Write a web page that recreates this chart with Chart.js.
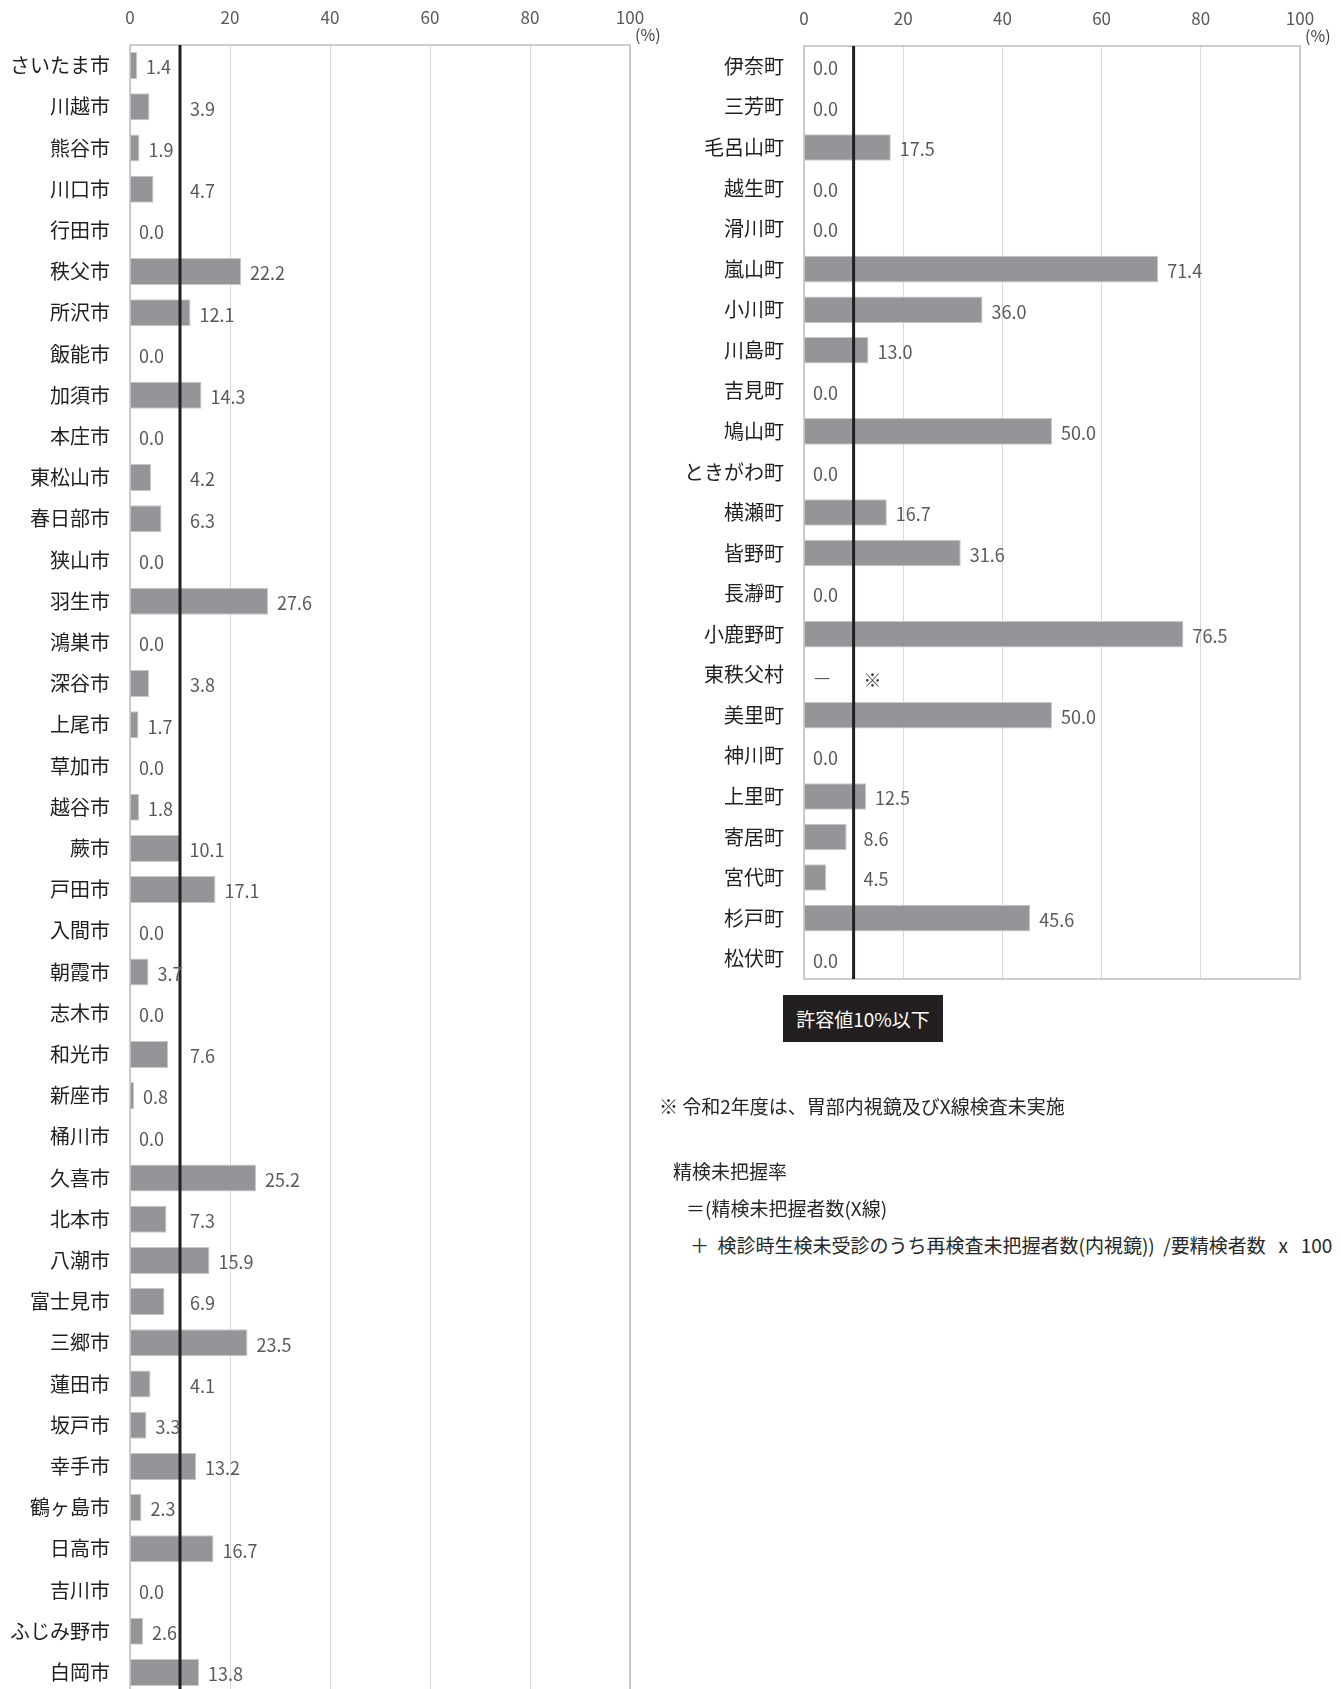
<!DOCTYPE html>
<html lang="ja">
<head>
<meta charset="utf-8">
<script src="https://cdn.jsdelivr.net/npm/chart.js@4.4.1/dist/chart.umd.min.js"></script>
<style>
html, body { margin: 0; padding: 0; background: #fff; overflow: hidden; }
body { width: 1341px; height: 1689px; position: relative; font-family: "Noto Sans CJK JP", "Noto Sans", sans-serif; color: #262626; }
#cityChart { position: absolute; left: 0; top: 0; }
#townChart { position: absolute; left: 674px; top: 0; }
.limit { position: absolute; left: 783px; top: 995px; width: 160px; height: 47px; background: #231f20; color: #fff; font-size: 19px; line-height: 47px; text-align: center; }
.note { position: absolute; font-size: 19px; line-height: 19px; white-space: nowrap; }
</style>
</head>
<body>
<canvas id="cityChart" width="680" height="1693"></canvas>
<canvas id="townChart" width="667" height="1000"></canvas>
<div class="limit">許容値10%以下</div>
<div class="note" style="left:659px; top:1096px;">※ 令和2年度は、胃部内視鏡及びX線検査未実施</div>
<div class="note" style="left:673px; top:1161px;">精検未把握率</div>
<div class="note" style="left:686px; top:1198px;">＝(精検未把握者数(X線)</div>
<div class="note" style="left:690px; top:1235px;">＋&nbsp;&nbsp;検診時生検未受診のうち再検査未把握者数(内視鏡))&nbsp;&nbsp;/要精検者数&nbsp;&nbsp;&nbsp;x&nbsp;&nbsp;&nbsp;100</div>
<script>
// 市
var cityNames = ['さいたま市', '川越市', '熊谷市', '川口市', '行田市', '秩父市', '所沢市', '飯能市', '加須市', '本庄市',
	'東松山市', '春日部市', '狭山市', '羽生市', '鴻巣市', '深谷市', '上尾市', '草加市', '越谷市', '蕨市',
	'戸田市', '入間市', '朝霞市', '志木市', '和光市', '新座市', '桶川市', '久喜市', '北本市', '八潮市',
	'富士見市', '三郷市', '蓮田市', '坂戸市', '幸手市', '鶴ヶ島市', '日高市', '吉川市', 'ふじみ野市', '白岡市'];
var cityRates = [1.4, 3.9, 1.9, 4.7, 0.0, 22.2, 12.1, 0.0, 14.3, 0.0,
	4.2, 6.3, 0.0, 27.6, 0.0, 3.8, 1.7, 0.0, 1.8, 10.1,
	17.1, 0.0, 3.7, 0.0, 7.6, 0.8, 0.0, 25.2, 7.3, 15.9,
	6.9, 23.5, 4.1, 3.3, 13.2, 2.3, 16.7, 0.0, 2.6, 13.8];

// 町村 (null = 未実施)
var townNames = ['伊奈町', '三芳町', '毛呂山町', '越生町', '滑川町', '嵐山町', '小川町', '川島町', '吉見町', '鳩山町',
	'ときがわ町', '横瀬町', '皆野町', '長瀞町', '小鹿野町', '東秩父村', '美里町', '神川町', '上里町', '寄居町',
	'宮代町', '杉戸町', '松伏町'];
var townRates = [0.0, 0.0, 17.5, 0.0, 0.0, 71.4, 36.0, 13.0, 0.0, 50.0,
	0.0, 16.7, 31.6, 0.0, 76.5, null, 50.0, 0.0, 12.5, 8.6,
	4.5, 45.6, 0.0];

var axisTicks = [0, 20, 40, 60, 80, 100];
var threshold = 10;
var missingLabel = '—';
var missingNote = '※';

var FONT = '"Noto Sans CJK JP", "Noto Sans", sans-serif';
Chart.defaults.font.family = FONT;

// threshold line, frame, value labels, unit
var overlay = {
	id: 'overlay',
	afterDatasetsDraw: function (chart) {
		var ctx = chart.ctx, area = chart.chartArea;
		var xs = chart.scales.x, ys = chart.scales.y;
		var lineX = xs.getPixelForValue(threshold);
		ctx.save();

		ctx.strokeStyle = '#bfbfbf';
		ctx.lineWidth = 1.5;
		ctx.strokeRect(area.left, area.top, area.right - area.left, area.bottom - area.top);

		ctx.strokeStyle = '#231f20';
		ctx.lineWidth = 3;
		ctx.beginPath();
		ctx.moveTo(lineX, area.top);
		ctx.lineTo(lineX, area.bottom);
		ctx.stroke();

		ctx.font = '18px ' + FONT;
		ctx.textBaseline = 'middle';
		ctx.textAlign = 'left';
		chart.data.datasets[0].data.forEach(function (v, i) {
			var y = ys.getPixelForValue(i) + 2;
			var x0 = xs.getPixelForValue(0) + 10;
			if (v === null) {
				ctx.fillStyle = '#595959';
				ctx.fillText(missingLabel, x0, y);
				ctx.fillStyle = '#404040';
				ctx.fillText(missingNote, lineX + 10, y + 3);
				return;
			}
			var text = v.toFixed(1);
			var w = ctx.measureText(text).width;
			var x = xs.getPixelForValue(v) + 9;
			// keep the label clear of the threshold line
			if (x < lineX + 9 && x + w > lineX + 2.5) x = lineX + 10;
			ctx.fillStyle = '#595959';
			ctx.fillText(text, x, y);
		});

		ctx.font = '16px ' + FONT;
		ctx.fillStyle = '#404040';
		ctx.fillText('(%)', area.right + 5, area.top - 10);
		ctx.restore();
	}
};

function buildChart(id, names, rates, padding, axisHeight) {
	return new Chart(document.getElementById(id), {
		type: 'bar',
		data: {
			labels: names,
			datasets: [{
				data: rates,
				backgroundColor: '#939598',
				borderColor: '#c8c8c8',
				borderWidth: 1,
				barPercentage: 0.655,
				categoryPercentage: 1
			}]
		},
		options: {
			indexAxis: 'y',
			responsive: false,
			maintainAspectRatio: false,
			animation: false,
			layout: { padding: padding },
			plugins: { legend: { display: false }, tooltip: { enabled: false } },
			scales: {
				x: {
					position: 'top',
					min: 0,
					max: 100,
					afterBuildTicks: function (s) { s.ticks = axisTicks.map(function (t) { return { value: t }; }); },
					ticks: { color: '#595959', font: { size: 17 }, padding: 17 },
					grid: { color: '#d9d9d9', drawTicks: false },
					border: { display: false },
					afterFit: function (s) { s.height = axisHeight; }
				},
				y: {
					ticks: { color: '#1f1f1f', font: { size: 20 }, padding: 20, autoSkip: false },
					grid: { display: false, drawTicks: false },
					border: { display: false },
					afterFit: function (s) {
						s.width = 130;
						s.paddingTop = 0;
						s.paddingBottom = 0;
					}
				}
			}
		},
		plugins: [overlay]
	});
}

buildChart('cityChart', cityNames, cityRates, { left: 0, right: 50, top: 0, bottom: 0 }, 45);
buildChart('townChart', townNames, townRates, { left: 0, right: 41, top: 0, bottom: 21 }, 46);
</script>
</body>
</html>
